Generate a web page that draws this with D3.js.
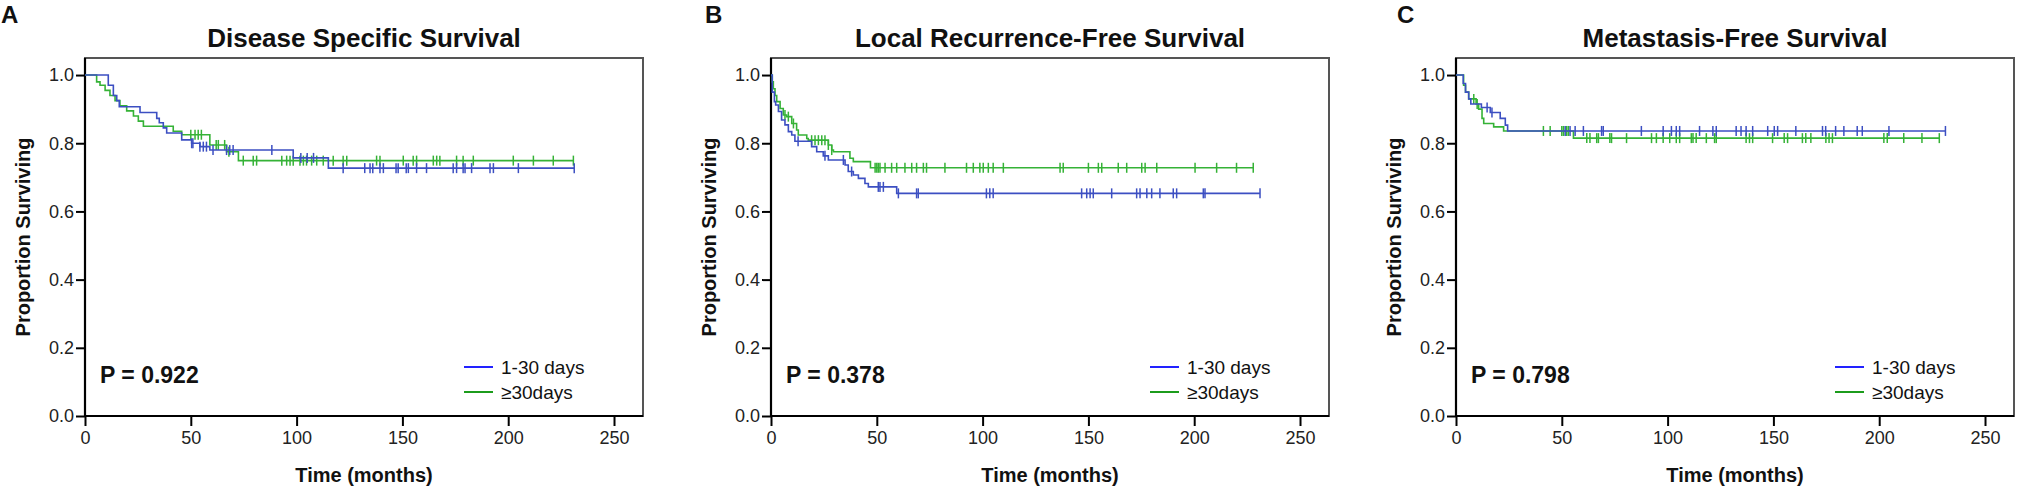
<!DOCTYPE html>
<html>
<head>
<meta charset="utf-8">
<script src="https://cdn.jsdelivr.net/npm/d3@7"></script>
<style>
  body { margin: 0; background: #fff; }
  text { font-family: Arial, "Liberation Sans", sans-serif; fill: #111; }
</style>
</head>
<body>
<svg id="chart" width="2019" height="490"></svg>
<script>
var panelLetters = ["A", "B", "C"];
var panelTitles = ["Disease Specific Survival", "Local Recurrence-Free Survival", "Metastasis-Free Survival"];
var pValues = ["0.922", "0.378", "0.798"];
var groupNames = ["1-30 days", "\u226530days"];
var xTicks = [0, 50, 100, 150, 200, 250];
var yTicks = [0, 0.2, 0.4, 0.6, 0.8, 1.0];

// A - disease specific survival: [months, proportion] at each drop
var dssShortSteps = [[0,1],[11,0.97],[13.4,0.94],[15,0.925],[16.2,0.907],[26,0.89],[33.9,0.873],[35.1,0.86],[37,0.845],[38.6,0.83],[45.7,0.81],[50.4,0.80],[54.3,0.79],[59,0.78],[98.4,0.757],[115,0.727]];
var dssLongSteps = [[0,1],[5.5,0.98],[7.1,0.97],[9.5,0.955],[11.8,0.94],[14.2,0.925],[16.5,0.91],[19.7,0.895],[22.9,0.88],[25.2,0.865],[27.6,0.85],[41.7,0.835],[45.7,0.825],[59,0.795],[66.9,0.775],[72.5,0.749]];
var dssShortCensor = [50.4,51,54.3,55.9,57.4,60.5,66.9,68.4,70,88.3,102,105,108,122,132.2,134.7,136,139.4,141,147,148,151.8,152.8,156.7,161.4,174,175.6,178.7,179.6,182.7,191.4,193,204.8,231.2];
var dssLongCensor = [50,52,53.5,55,62,63,66,68,74.8,79.5,81.1,93,95.3,96.9,98.4,101.6,103.2,104.7,107.1,109.5,112.6,117.3,122,123.7,137.8,139.4,150.4,155.1,156.7,164.6,166.2,167.7,175.6,178.7,183.5,202.4,211.9,221.3,230.8];

// B - local recurrence-free survival
var lrfsShortSteps = [[0,1],[0.6,0.95],[1.6,0.922],[2.2,0.912],[3.5,0.893],[5,0.868],[6.6,0.854],[8.2,0.834],[9.8,0.824],[11.3,0.806],[19.2,0.79],[21.6,0.775],[24.7,0.763],[27.1,0.751],[35,0.736],[36.5,0.717],[38.9,0.707],[41.3,0.697],[44.4,0.682],[46,0.672],[59.4,0.653]];
var lrfsLongSteps = [[0,1],[0.6,0.98],[1.1,0.96],[1.9,0.94],[2.7,0.922],[4.3,0.902],[5.8,0.883],[7.4,0.878],[9.8,0.858],[12.1,0.839],[12.9,0.824],[16.9,0.814],[17.6,0.809],[27.1,0.795],[28.7,0.78],[29.5,0.775],[37.3,0.756],[38.9,0.746],[47,0.728]];
var lrfsShortCensor = [12.8,25.5,34.2,38.1,50.7,51.5,53.1,60.2,68.8,69.6,101.8,103.4,105,146.8,149.2,150.8,152.3,161,172.8,174.4,177.6,179.9,183.8,190.1,191.7,204.3,205.1,231.1];
var lrfsLongCensor = [6.6,8.2,10.6,19.2,20.8,22.4,24,25.5,27.1,28.7,49.2,50,50.7,51.5,53.9,57,59.4,63.3,66.5,68.8,72,73.5,82.2,92.4,95.6,98.7,100.3,102.7,105,109.8,136.6,138.1,150,154.7,156.3,164.1,168.1,175.2,176.8,182.3,200.4,210.6,220,227.9];

// C - metastasis-free survival
var mfsShortSteps = [[0,1],[3.4,0.975],[4.5,0.95],[6,0.93],[7,0.915],[12,0.905],[16.2,0.89],[20.9,0.873],[23.3,0.853],[24.4,0.836]];
var mfsLongSteps = [[0,1],[3.6,0.97],[4.5,0.95],[6,0.93],[9.5,0.915],[10.7,0.9],[12.3,0.873],[13.1,0.858],[17.8,0.848],[22.5,0.836],[55.5,0.815]];
var mfsShortCensor = [14.7,17,51.6,53.9,56.3,60.2,68.8,69.6,87.6,97.9,101.8,104.1,105.7,115.1,121.4,123,132.4,134.7,137.1,140.2,147.3,150.4,152,160.6,173.2,174.7,179.4,183.3,189.6,192,204.6,231.3];
var mfsLongCensor = [8.4,10,41.3,44.5,50,50.8,52.3,53.1,61.8,63.3,66.5,67.3,72.7,73.5,80.6,92.4,94.7,97.9,101,104.1,105.7,111.2,112,113.5,118.3,122.2,123,137.1,138.7,140.2,149.6,155.1,156.7,163.7,165.3,167.7,174.8,176.3,177.9,202.2,203.8,211.6,220.2,228.4];

var panelSteps = [[dssShortSteps, dssLongSteps], [lrfsShortSteps, lrfsLongSteps], [mfsShortSteps, mfsLongSteps]];
var panelCensor = [[dssShortCensor, dssLongCensor], [lrfsShortCensor, lrfsLongCensor], [mfsShortCensor, mfsLongCensor]];

var curveColors = ["#3c4fc2", "#35b236"];
var legendColors = ["#2222ff", "#1c9c1c"];

var svg = d3.select("#chart");
var plotLeft = [85, 771, 1456];
var letterX = [1, 705, 1397];
var plotTop = 58, plotW = 558, plotH = 358;

var x = d3.scaleLinear().domain([0, 263.7]).range([0, plotW]);
var y = d3.scaleLinear().domain([0, 1.05]).range([plotH, 0]);

function survivalAt(steps, t) {
  var s = 1;
  steps.forEach(function(p) { if (p[0] <= t) s = p[1]; });
  return s;
}

panelTitles.forEach(function(title, i) {
  svg.append("text")
    .attr("x", letterX[i]).attr("y", 23)
    .style("font-size", "24px").style("font-weight", "bold")
    .text(panelLetters[i]);

  var g = svg.append("g").attr("transform", "translate(" + plotLeft[i] + "," + plotTop + ")");

  g.append("text")
    .attr("x", plotW / 2).attr("y", -11)
    .attr("text-anchor", "middle")
    .style("font-size", "26px").style("font-weight", "bold")
    .text(title);

  // frame (top/right lighter)
  g.append("rect")
    .attr("x", 0).attr("y", 0).attr("width", plotW).attr("height", plotH)
    .style("fill", "none").style("stroke", "#555").style("stroke-width", 2);

  var yAxis = g.append("g")
    .call(d3.axisLeft(y).tickValues(yTicks).tickFormat(d3.format(".1f")).tickSize(9).tickPadding(2));
  var xAxis = g.append("g").attr("transform", "translate(0," + plotH + ")")
    .call(d3.axisBottom(x).tickValues(xTicks).tickSize(10).tickPadding(5));
  [yAxis, xAxis].forEach(function(a) {
    a.select(".domain").style("stroke", "#000").style("stroke-width", 2.2);
    a.selectAll(".tick line").style("stroke", "#000").style("stroke-width", 2);
    a.selectAll(".tick text").style("font-size", "18px").style("fill", "#222")
      .style("font-family", "Arial, 'Liberation Sans', sans-serif");
  });
  yAxis.select(".domain").attr("d", "M0," + plotH + "V0");
  xAxis.select(".domain").attr("d", "M0,0H" + plotW);

  g.append("text")
    .attr("transform", "translate(-55," + (plotH / 2) + ") rotate(-90)")
    .attr("text-anchor", "middle")
    .style("font-size", "20px").style("font-weight", "bold")
    .text("Proportion Surviving");

  g.append("text")
    .attr("x", plotW / 2).attr("y", plotH + 66)
    .attr("text-anchor", "middle")
    .style("font-size", "20px").style("font-weight", "bold")
    .text("Time (months)");

  g.append("text")
    .attr("x", 15).attr("y", 325)
    .style("font-size", "23px").style("font-weight", "bold")
    .text("P = " + pValues[i]);

  var line = d3.line()
    .x(function(d) { return x(d[0]); })
    .y(function(d) { return y(d[1]); })
    .curve(d3.curveStepAfter);

  // draw green first, blue on top
  [1, 0].forEach(function(k) {
    var steps = panelSteps[i][k];
    var censor = panelCensor[i][k];
    var end = d3.max(censor);
    var pts = steps.concat([[end, steps[steps.length - 1][1]]]);
    g.append("path")
      .attr("d", line(pts))
      .style("fill", "none").style("stroke", curveColors[k]).style("stroke-width", 1.6);
    g.selectAll(null).data(censor).enter().append("line")
      .attr("x1", function(d) { return x(d); })
      .attr("x2", function(d) { return x(d); })
      .attr("y1", function(d) { return y(survivalAt(steps, d)) - 5; })
      .attr("y2", function(d) { return y(survivalAt(steps, d)) + 5; })
      .style("stroke", curveColors[k]).style("stroke-width", 1.5);
  });

  groupNames.forEach(function(name, k) {
    var ly = 309 + k * 25;
    g.append("line")
      .attr("x1", 379).attr("x2", 408).attr("y1", ly).attr("y2", ly)
      .style("stroke", legendColors[k]).style("stroke-width", 2);
    g.append("text")
      .attr("x", 416).attr("y", ly + 7)
      .style("font-size", "19px")
      .text(name);
  });
});
</script>
</body>
</html>
